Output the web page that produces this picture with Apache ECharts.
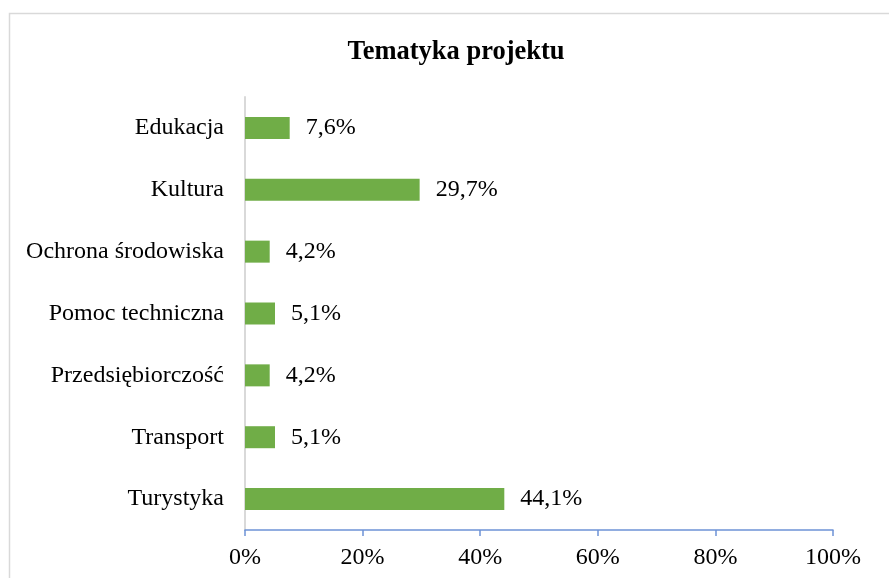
<!DOCTYPE html>
<html lang="pl">
<head>
    <meta charset="UTF-8">
    <title>Tematyka projektu</title>
    <script src="https://cdn.jsdelivr.net/npm/echarts@6/dist/echarts.min.js"></script>
    <style>
        html, body { margin: 0; padding: 0; background: #fff; }
        #chart1 { width: 889px; height: 578px; }
    </style>
</head>
<body>
<div id="chart1"></div>
<script type="text/javascript">
    // dane (od góry do dołu)
    var categories = ['Edukacja', 'Kultura', 'Ochrona środowiska', 'Pomoc techniczna', 'Przedsiębiorczość', 'Transport', 'Turystyka'];
    var values = [7.6, 29.7, 4.2, 5.1, 4.2, 5.1, 44.1];
    var xTicks = [0, 20, 40, 60, 80, 100];

    var font = '"Liberation Serif", "Times New Roman", serif';

    var myChart1 = echarts.init(document.getElementById('chart1'));
    myChart1.setOption({
        animation: false,
        title: {
            text: 'Tematyka projektu',
            left: 451,
            textAlign: 'center',
            top: 34,
            textStyle: { fontFamily: font, fontSize: 26.5, fontWeight: 'bold', color: '#000' }
        },
        graphic: [{
            type: 'rect',
            shape: { x: 9.5, y: 13.5, width: 900, height: 600 },
            style: { fill: 'none', stroke: '#d9d9d9', lineWidth: 1.5 },
            silent: true
        }],
        grid: { left: 245, right: 56, top: 97, bottom: 48 },
        xAxis: {
            type: 'value',
            min: xTicks[0],
            max: xTicks[xTicks.length - 1],
            interval: 20,
            axisLine: { show: true, lineStyle: { color: '#6e93d6', width: 1.5 } },
            axisTick: { show: true, length: 6, lineStyle: { color: '#6e93d6', width: 1.5 } },
            splitLine: { show: false },
            axisLabel: {
                margin: 16,
                fontFamily: font, fontSize: 24, color: '#000',
                formatter: function (v) { return v + '%'; }
            }
        },
        yAxis: {
            type: 'category',
            inverse: true,
            data: categories,
            axisLine: { show: true, lineStyle: { color: '#d9d9d9', width: 2 } },
            axisTick: { show: false },
            axisLabel: { margin: 21, fontFamily: font, fontSize: 24, color: '#000' }
        },
        series: [{
            type: 'bar',
            data: values,
            barWidth: 22,
            itemStyle: { color: '#70ad47' },
            label: {
                show: true,
                position: 'right',
                distance: 16,
                fontFamily: font, fontSize: 24, color: '#000',
                formatter: function (p) { return p.value.toFixed(1).replace('.', ',') + '%'; }
            }
        }]
    });
</script>
</body>
</html>
